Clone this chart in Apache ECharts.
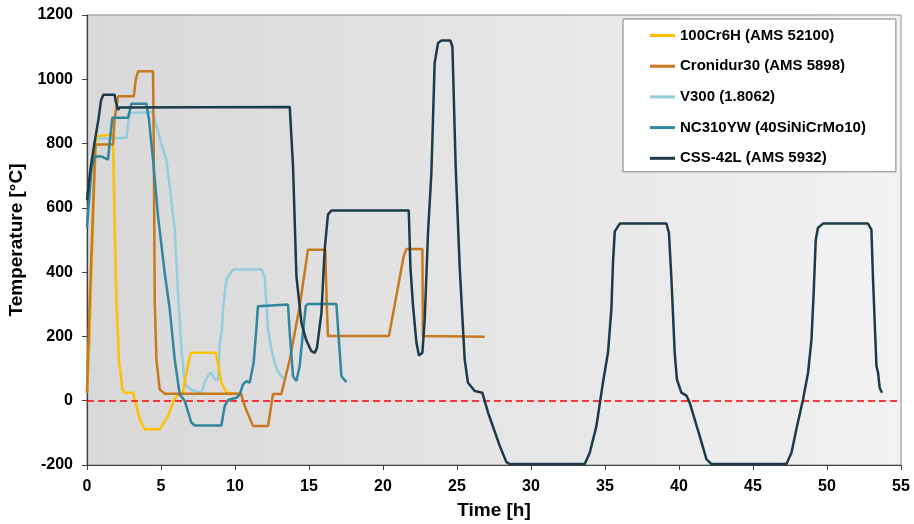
<!DOCTYPE html>
<html>
<head>
<meta charset="utf-8">
<script src="https://cdn.jsdelivr.net/npm/echarts@6/dist/echarts.min.js"></script>
<style>
html,body{margin:0;padding:0;background:#fff;}
#chart{width:914px;height:524px;}
</style>
</head>
<body>
<div id="chart"></div>
<script>
// ---- data: [time h, temperature °C] ----
var seriesNames = ['100Cr6H (AMS 52100)', 'Cronidur30 (AMS 5898)', 'V300 (1.8062)', 'NC310YW (40SiNiCrMo10)', 'CSS-42L (AMS 5932)'];

var cr6hData = [[0,25],[0.15,180],[0.3,400],[0.5,700],[0.62,823],[0.75,828],[1.76,828],[1.87,543],[1.99,305],[2.16,128],[2.39,35],[2.55,25],[3.11,25],[3.56,-58],[3.9,-89],[4.91,-89],[5.47,-48],[5.85,0],[6.2,22],[6.49,28],[6.72,87],[6.95,140],[7.05,149],[8.7,149],[8.85,118],[9.08,56],[9.42,25],[10.2,22]];

var cronidurData = [[0,25],[0.18,300],[0.41,600],[0.57,797],[1.76,797],[1.85,870],[2.1,947],[3.16,947],[3.3,1000],[3.45,1025],[4.46,1025],[4.5,854],[4.58,305],[4.69,128],[4.91,35],[5.25,22],[10.4,22],[10.66,-17],[11.22,-79],[12.23,-79],[12.57,21],[13.13,21],[13.7,128],[14.37,294],[14.93,470],[16.1,470],[16.2,300],[16.28,201],[20.4,201],[21.4,450],[21.58,472],[22.66,472],[22.7,201],[26.87,199]];

var v300Data = [[0,25],[0.15,180],[0.3,400],[0.5,700],[0.62,815],[0.75,818],[2.66,818],[2.89,895],[3.0,898],[4.46,898],[4.69,854],[5.14,781],[5.36,750],[5.59,667],[5.93,532],[6.15,336],[6.38,159],[6.6,60],[6.72,45],[7.16,32],[7.73,25],[7.95,56],[8.2,80],[8.4,87],[8.63,66],[8.85,66],[8.97,180],[9.12,222],[9.19,284],[9.42,377],[9.86,408],[11.78,408],[12.0,387],[12.23,222],[12.46,159],[12.68,118],[12.9,90],[13.24,71],[13.35,70]];

var nc310Data = [[0,540],[0.3,719],[0.52,760],[0.97,760],[1.42,750],[1.53,802],[1.71,880],[2.77,880],[3.0,924],[4.01,924],[4.19,874],[4.46,750],[4.8,574],[5.25,398],[5.59,284],[5.93,128],[6.26,20],[6.6,0],[7.05,-68],[7.28,-77],[9.08,-77],[9.3,-17],[9.53,2],[10.1,9],[10.32,20],[10.54,51],[10.77,61],[10.99,56],[11.26,118],[11.44,222],[11.55,294],[11.67,299],[13.58,299],[13.7,211],[13.92,76],[14.15,61],[14.37,108],[14.59,211],[14.78,294],[14.93,301],[16.85,301],[17.03,180],[17.19,76],[17.53,58]];

var css42lData = [[0,625],[0.23,720],[0.5,800],[0.79,880],[0.95,935],[1.1,952],[1.87,952],[1.95,930],[2.1,905],[2.2,912],[2.32,916],[13.7,914],[13.92,729],[14.15,387],[14.49,242],[14.8,190],[15.16,154],[15.39,149],[15.54,165],[15.84,273],[16.06,470],[16.28,579],[16.51,592],[21.74,592],[21.85,418],[22.03,294],[22.26,180],[22.43,141],[22.66,149],[22.82,253],[23.04,522],[23.27,709],[23.49,1051],[23.72,1113],[23.95,1121],[24.55,1121],[24.69,1102],[24.91,729],[25.18,418],[25.36,263],[25.52,128],[25.74,56],[26.2,30],[26.71,25],[27.1,-37],[27.89,-141],[28.34,-191],[28.56,-197],[33.63,-197],[33.97,-162],[34.42,-79],[34.86,56],[35.2,149],[35.43,284],[35.54,429],[35.66,527],[36.0,551],[39.15,551],[39.32,522],[39.49,377],[39.71,149],[39.86,66],[40.16,25],[40.5,16],[40.72,-6],[41.4,-110],[41.85,-182],[42.19,-197],[47.26,-197],[47.6,-162],[47.93,-89],[48.38,4],[48.72,87],[48.95,190],[49.1,336],[49.24,501],[49.39,538],[49.73,551],[52.77,551],[53.0,532],[53.11,377],[53.34,108],[53.45,87],[53.56,40],[53.72,25]];

var seriesData = [cr6hData, cronidurData, v300Data, nc310Data, css42lData];
var seriesColors = ['#FFC000', '#C8791E', '#93CDDD', '#31859C', '#1B3B4A'];
var seriesZ = [4, 5, 3, 6, 7];
var referenceLineValue = 0;

var chart = echarts.init(document.getElementById('chart'), null, {renderer: 'canvas'});
var FONT = 'Liberation Sans, Arial, sans-serif';

var series = seriesNames.map(function (name, i) {
  return {
    name: name,
    type: 'line',
    data: seriesData[i],
    symbol: 'none',
    showSymbol: false,
    lineStyle: {width: 2.5, color: seriesColors[i]},
    itemStyle: {color: seriesColors[i]},
    z: seriesZ[i],
    animation: false
  };
});
series.push({
  name: 'zero',
  type: 'line',
  data: [],
  symbol: 'none',
  markLine: {
    silent: true,
    symbol: ['none', 'none'],
    label: {show: false},
    lineStyle: {color: '#FF0000', type: [7, 4], width: 1.5},
    data: [{yAxis: referenceLineValue}]
  },
  z: 2,
  animation: false
});

chart.setOption({
  animation: false,
  backgroundColor: '#ffffff',
  grid: {
    left: 87, right: 13, top: 15, bottom: 59,
    containLabel: false,
    outerBoundsMode: 'none',
    show: true,
    borderColor: '#8c8c8c',
    borderWidth: 1,
    backgroundColor: {
      type: 'linear', x: 0, y: 0, x2: 1, y2: 0,
      colorStops: [{offset: 0, color: '#d8d8d8'}, {offset: 1, color: '#f2f2f2'}]
    }
  },
  legend: {
    data: seriesNames,
    orient: 'vertical',
    left: 623,
    top: 19,
    backgroundColor: '#ffffff',
    borderColor: '#7f7f7f',
    borderWidth: 1,
    borderRadius: 0,
    padding: [8, 30, 5, 27],
    itemGap: 13.7,
    itemWidth: 25,
    itemHeight: 3,
    icon: 'rect',
    textStyle: {fontFamily: FONT, fontWeight: 'bold', fontSize: 15, color: '#000', lineHeight: 17}
  },
  xAxis: {
    type: 'value',
    min: 0, max: 55, interval: 5,
    name: 'Time [h]',
    nameLocation: 'middle',
    nameGap: 36,
    nameTextStyle: {fontFamily: FONT, fontWeight: 'bold', fontSize: 19, color: '#000'},
    axisLine: {show: true, onZero: false, lineStyle: {color: '#404040', width: 1.2}},
    axisTick: {show: true, length: 5, lineStyle: {color: '#404040'}},
    axisLabel: {fontFamily: FONT, fontWeight: 'bold', fontSize: 16, color: '#000', margin: 14},
    splitLine: {show: false}
  },
  yAxis: {
    type: 'value',
    min: -200, max: 1200, interval: 200,
    name: 'Temperature [°C]',
    nameLocation: 'middle',
    nameGap: 52,
    nameTextStyle: {fontFamily: FONT, fontWeight: 'bold', fontSize: 19, color: '#000'},
    axisLine: {show: true, onZero: false, lineStyle: {color: '#404040', width: 1.2}},
    axisTick: {show: true, length: 5, lineStyle: {color: '#404040'}},
    axisLabel: {
      fontFamily: FONT, fontWeight: 'bold', fontSize: 16, color: '#000', margin: 14,
      formatter: function (v) { return String(v); }
    },
    splitLine: {show: false}
  },
  series: series
});
</script>
</body>
</html>
